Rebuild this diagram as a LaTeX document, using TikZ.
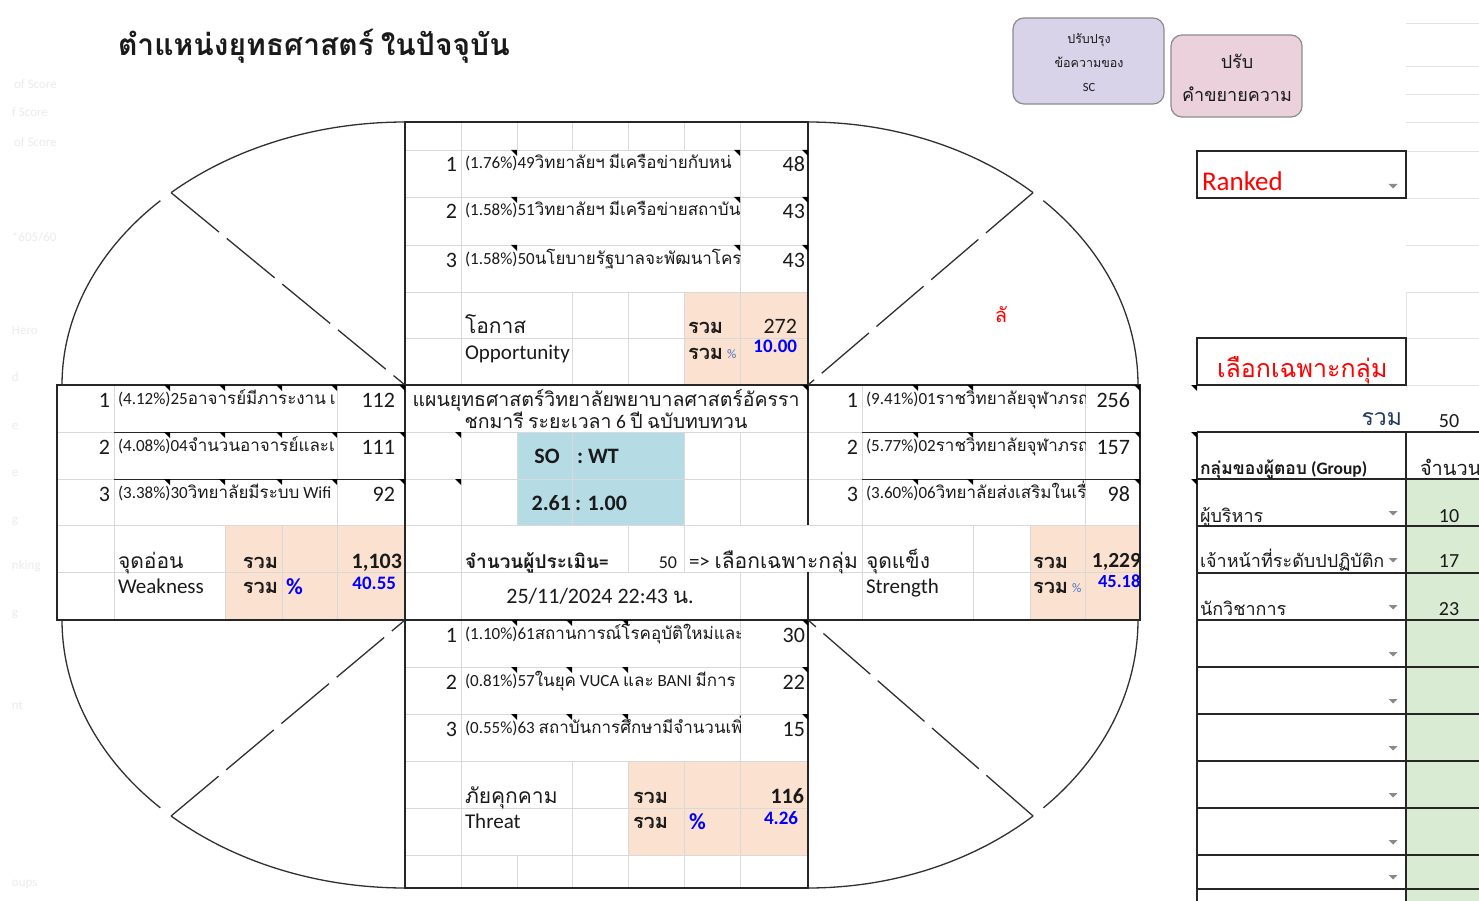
\documentclass[tikz,border=0pt]{standalone}
\usepackage{fontspec}
\setmainfont{Carlito}
\newfontfamily\tfont[Script=Thai]{Loma}
\XeTeXinterchartokenstate=1
\newXeTeXintercharclass\thaicls
\count255="0E00
\loop\XeTeXcharclass\count255=\thaicls\relax
\ifnum\count255<"0E7F \advance\count255 by 1 \repeat
\XeTeXinterchartoks 0 \thaicls={\begingroup\tfont}
\XeTeXinterchartoks 4095 \thaicls={\begingroup\tfont}
\XeTeXinterchartoks \thaicls 0={\endgroup}
\XeTeXinterchartoks \thaicls 4095={\endgroup}
\definecolor{peach}{HTML}{FBE2D0}
\definecolor{aqua}{HTML}{B5DCE5}
\definecolor{mint}{HTML}{D9EBD3}
\definecolor{gridc}{HTML}{D9D9D9}
\definecolor{bordc}{HTML}{262626}
\definecolor{arcc}{HTML}{303030}
\definecolor{txt}{HTML}{1A1A1A}
\definecolor{bluet}{HTML}{0000FF}
\definecolor{lblue}{HTML}{4472C4}
\definecolor{lav}{HTML}{D9D3E9}
\definecolor{pinkb}{HTML}{EAD1DC}
\definecolor{btnb}{HTML}{8C8C8C}
\definecolor{redt}{HTML}{FF0000}
\definecolor{navyt}{HTML}{1F3864}
\definecolor{faint}{HTML}{ECECEC}
\definecolor{ddc}{HTML}{8A8A8A}
\definecolor{lgrid}{HTML}{E3E3E3}
\newcommand\desccell[5]{%
  \begin{scope}\clip (#2,#3) rectangle (#4,#3+47);
  \node[T,fs=17] (#1) at (#2+4,#3+19) {#5};
  \end{scope}}
\newcommand\ctri[2]{\fill[black] (#1-6,#2) -- (#1,#2) -- (#1,#2+6) -- cycle;}
\newcommand\ddarrow[2]{\fill[ddc] (#1-4.5,#2-2) -- (#1+4.5,#2-2) -- (#1,#2+2.5) -- cycle;}
\begin{document}
\begin{tikzpicture}[x=1pt,y=-1pt,
  every node/.style={inner sep=0pt,outer sep=0pt,text=txt},
  T/.style={anchor=base west}, R/.style={anchor=base east}, C/.style={anchor=base},
  fs/.style={font=\fontsize{#1}{#1}\selectfont},
  fb/.style={font=\fontsize{#1}{#1}\selectfont\bfseries},
  grid/.style={draw=gridc,line width=0.8pt},
  bord/.style={draw=bordc,line width=1.4pt},
  thinb/.style={draw=bordc,line width=0.9pt},
  arcl/.style={draw=arcc,line width=1.3pt},
  dsh/.style={draw=arcc,line width=1.3pt,dash pattern=on 62pt off 10pt},
  lg/.style={draw=lgrid,line width=0.8pt},
]
\fill[white] (0,0) rectangle (1479,901);
\useasboundingbox (0,0) rectangle (1479,901);

% faint text at left edge
\node[T,fs=13,text=faint] (g1) at (14,89) {of Score};
\node[T,fs=13,text=faint] (g2) at (12,117) {f Score};
\node[T,fs=13,text=faint] (g3) at (14,147) {of Score};
\node[T,fs=13,text=faint] (g4) at (12,241) {*605/60};
\node[T,fs=13,text=faint] (g5) at (12,334) {Hero};
\node[T,fs=13,text=faint] (g6) at (12,381) {d};
\node[T,fs=13,text=faint] (g7) at (12,429) {e};
\node[T,fs=13,text=faint] (g8) at (12,476) {e};
\node[T,fs=13,text=faint] (g9) at (12,523) {g};
\node[T,fs=13,text=faint] (g10) at (12,569) {nking};
\node[T,fs=13,text=faint] (g11) at (12,616) {g};
\node[T,fs=13,text=faint] (g12) at (12,709) {nt};
\node[T,fs=13,text=faint] (g13) at (12,886) {oups};

% fills
\fill[peach] (684,292) rectangle (808,385);
\fill[peach] (225,525) rectangle (405,620);
\fill[peach] (1030,525) rectangle (1140,620);
\fill[peach] (628,761) rectangle (808,855);
\fill[aqua] (517,432) rectangle (684,525);
\fill[mint] (1406,479) rectangle (1479,901);

% grid: top table
\foreach \yy in {150,197,245,292,338} {\draw[grid] (405,\yy) -- (808,\yy);}
\draw[grid] (461,122) -- (461,385);
\draw[grid] (740,122) -- (740,385);
\foreach \xx in {517,572,628,684} {\draw[grid] (\xx,122) -- (\xx,150);}
\foreach \xx in {572,628,684} {\draw[grid] (\xx,292) -- (\xx,385);}
% grid: left table
\foreach \yy in {432,479,525,572} {\draw[grid] (57,\yy) -- (405,\yy);}
\draw[grid] (114,385) -- (114,620);
\draw[grid] (337,385) -- (337,620);
\draw[grid] (225,525) -- (225,620);
\draw[grid] (282,525) -- (282,620);
% grid: centre
\foreach \yy in {432,479,525,572} {\draw[grid] (405,\yy) -- (808,\yy);}
\draw[grid] (461,432) -- (461,620);
\draw[grid] (517,432) -- (517,525);
\draw[grid] (572,432) -- (572,525);
\draw[grid] (684,432) -- (684,572);
\draw[grid] (740,432) -- (740,525);
\draw[grid] (740,572) -- (740,620);
\draw[grid] (628,525) -- (628,572);
% grid: right table
\foreach \yy in {432,479,525,572} {\draw[grid] (808,\yy) -- (1140,\yy);}
\draw[grid] (862,385) -- (862,620);
\draw[grid] (1085,385) -- (1085,620);
\draw[grid] (973,525) -- (973,620);
\draw[grid] (1030,525) -- (1030,620);
% grid: bottom table
\foreach \yy in {667,714,761,808,855} {\draw[grid] (405,\yy) -- (808,\yy);}
\draw[grid] (461,620) -- (461,888);
\draw[grid] (740,620) -- (740,888);
\foreach \xx in {572,628,684} {\draw[grid] (\xx,761) -- (\xx,888);}
\draw[grid] (517,855) -- (517,888);

% thin black cell tops
\draw[thinb] (114,432) -- (405,432);
\draw[thinb] (114,479) -- (405,479);
\draw[thinb] (862,432) -- (1140,432);
\draw[thinb] (862,479) -- (1140,479);

% table borders
\draw[bord] (405,122) rectangle (808,385);
\draw[bord] (57,385) rectangle (405,620);
\draw[bord] (405,620) rectangle (808,888);
\draw[bord] (808,385) -- (1140,385) -- (1140,620) -- (808,620);
\draw[bord] (808,385) -- (808,525);
\draw[bord] (808,572) -- (808,620);

% arcs and dashed radii
\coordinate (ctl) at (405,385);
\coordinate (ctr) at (808,385);
\coordinate (cbl) at (405,620);
\coordinate (cbr) at (808,620);
\coordinate (ptl) at ({405+343*cos(133)},{385-263*sin(133)});
\coordinate (ptr) at ({808+330*cos(47)},{385-263*sin(47)});
\coordinate (pbl) at ({405+343*cos(133)},{620+268*sin(133)});
\coordinate (pbr) at ({808+330*cos(47)},{620+268*sin(47)});
\draw[arcl] plot[domain=90:133,samples=40,smooth] ({405+343*cos(\x)},{385-263*sin(\x)});
\draw[arcl] plot[domain=135.5:180,samples=40,smooth] ({405+343*cos(\x)},{385-263*sin(\x)});
\draw[arcl] plot[domain=47:90,samples=40,smooth] ({808+330*cos(\x)},{385-263*sin(\x)});
\draw[arcl] plot[domain=0:44.5,samples=40,smooth] ({808+330*cos(\x)},{385-263*sin(\x)});
\draw[arcl] plot[domain=90:133,samples=40,smooth] ({405+343*cos(\x)},{620+268*sin(\x)});
\draw[arcl] plot[domain=135.5:180,samples=40,smooth] ({405+343*cos(\x)},{620+268*sin(\x)});
\draw[arcl] plot[domain=47:90,samples=40,smooth] ({808+330*cos(\x)},{620+268*sin(\x)});
\draw[arcl] plot[domain=0:44.5,samples=40,smooth] ({808+330*cos(\x)},{620+268*sin(\x)});
\draw[dsh] (ptl) -- (ctl);
\draw[dsh] (ptr) -- (ctr);
\draw[dsh] (pbl) -- (cbl);
\draw[dsh] (pbr) -- (cbr);

% title
\node[T,fb=30] (title) at (118,56) {ตำแหน่งยุทธศาสตร์ ในปัจจุบัน};

% top table: opportunity
\node[R,fs=22] (o1n) at (457,172) {1};
\desccell{o1t}{461}{150}{740}{(1.76\%)49วิทยาลัยฯ มีเครือข่ายกับหน่}
\node[R,fs=22] (o1v) at (805,172) {48};
\node[R,fs=22] (o2n) at (457,219) {2};
\desccell{o2t}{461}{197}{740}{(1.58\%)51วิทยาลัยฯ มีเครือข่ายสถาบัน}
\node[R,fs=22] (o2v) at (805,219) {43};
\node[R,fs=22] (o3n) at (457,267) {3};
\desccell{o3t}{461}{245}{740}{(1.58\%)50นโยบายรัฐบาลจะพัฒนาโคร}
\node[R,fs=22] (o3v) at (805,267) {43};
\node[T,fs=21] (olab1) at (465,333) {โอกาส};
\node[T,fs=21] (olab2) at (465,359) {Opportunity};
\node[T,fb=20] (osum1) at (688,333) {รวม};
\node[R,fs=22] (osv) at (797,333) {272};
\node[T,fb=20] (osum2) at (688,359) {รวม};
\node[T,fs=13,text=lblue] (opc) at (727,358) {\%};
\node[R,fb=19,text=bluet] (opv) at (797,352) {10.00};

% left table: weakness
\node[R,fs=22] (w1n) at (110,407) {1};
\desccell{w1t}{114}{385}{337}{(4.12\%)25อาจารย์มีภาระงาน เ}
\node[R,fs=22] (w1v) at (395,407) {112};
\node[R,fs=22] (w2n) at (110,454) {2};
\desccell{w2t}{114}{432}{337}{(4.08\%)04จำนวนอาจารย์และเ}
\node[R,fs=22] (w2v) at (395,454) {111};
\node[R,fs=22] (w3n) at (110,501) {3};
\desccell{w3t}{114}{479}{337}{(3.38\%)30วิทยาลัยมีระบบ Wifi}
\node[R,fs=22] (w3v) at (395,501) {92};
\node[T,fs=21] (wlab1) at (118,568) {จุดอ่อน};
\node[T,fs=21] (wlab2) at (118,593) {Weakness};
\node[R,fb=20] (wsum1) at (278,568) {รวม};
\node[R,fb=20] (wsum2) at (278,593) {รวม};
\node[T,fb=23,text=bluet] (wpc) at (286,594) {\%};
\node[R,fb=22] (wsv) at (402,568) {1,103};
\node[R,fb=19,text=bluet] (wpv) at (396,589) {40.55};

% centre
\node[C,fs=19.5] (ct1) at (606,406) {แผนยุทธศาสตร์วิทยาลัยพยาบาลศาสตร์อัครรา};
\node[C,fs=19.5] (ct2) at (606,428) {ชกมารี ระยะเวลา 6 ปี ฉบับทบทวน};
\node[C,fb=22] (so) at (547,463) {SO};
\node[T,fb=22] (wt) at (577,463) {:\ WT};
\node[R,fb=22] (r1) at (571,510) {2.61};
\node[T,fb=22] (r2) at (575,510) {: 1.00};
\node[T,fb=19] (cnt) at (465,568) {จำนวนผู้ประเมิน=};
\node[R,fs=18] (cntv) at (677,568) {50};
\node[T,fs=21] (sel) at (689,568) {=> เลือกเฉพาะกลุ่ม};
\node[C,fs=22] (dt) at (600,603) {25/11/2024 22:43 น.};

% right table: strength
\node[R,fs=22] (s1n) at (858,407) {1};
\desccell{s1t}{862}{385}{1085}{(9.41\%)01ราชวิทยาลัยจุฬาภรณ์}
\node[R,fs=22] (s1v) at (1130,407) {256};
\node[R,fs=22] (s2n) at (858,454) {2};
\desccell{s2t}{862}{432}{1085}{(5.77\%)02ราชวิทยาลัยจุฬาภรณ์}
\node[R,fs=22] (s2v) at (1130,454) {157};
\node[R,fs=22] (s3n) at (858,501) {3};
\desccell{s3t}{862}{479}{1085}{(3.60\%)06วิทยาลัยส่งเสริมในเรื่อง}
\node[R,fs=22] (s3v) at (1130,501) {98};
\node[T,fs=21] (slab1) at (866,568) {จุดแข็ง};
\node[T,fs=21] (slab2) at (866,593) {Strength};
\node[T,fb=20] (ssum1) at (1033,568) {รวม};
\node[T,fb=20] (ssum2) at (1033,593) {รวม};
\node[T,fs=13,text=lblue] (spc) at (1072,592) {\%};
\node[R,fb=21.5] (ssv) at (1141,567) {1,229};
\begin{scope}\clip (1086,574) rectangle (1140,620);
\node[T,fb=18.5,text=bluet] (spv) at (1098,587) {45.18};
\end{scope}

% bottom table: threat
\node[R,fs=22] (t1n) at (457,642) {1};
\desccell{t1t}{461}{620}{740}{(1.10\%)61สถานการณ์โรคอุบัติใหม่และ}
\node[R,fs=22] (t1v) at (805,642) {30};
\node[R,fs=22] (t2n) at (457,689) {2};
\desccell{t2t}{461}{667}{740}{(0.81\%)57ในยุค VUCA และ BANI มีการ}
\node[R,fs=22] (t2v) at (805,689) {22};
\node[R,fs=22] (t3n) at (457,736) {3};
\desccell{t3t}{461}{714}{740}{(0.55\%)63 สถาบันการศึกษามีจำนวนเพิ่ม}
\node[R,fs=22] (t3v) at (805,736) {15};
\node[T,fs=21] (tlab1) at (465,803) {ภัยคุกคาม};
\node[T,fs=21] (tlab2) at (465,828) {Threat};
\node[T,fb=20] (tsum1) at (633,803) {รวม};
\node[T,fb=20] (tsum2) at (633,828) {รวม};
\node[T,fb=23,text=bluet] (tpc) at (689,829) {\%};
\node[R,fb=22] (tsv) at (804,803) {116};
\node[R,fb=19,text=bluet] (tpv) at (798,824) {4.26};

% red mark
\node[C,fs=20,text=redt] (la) at (1001,322) {ลั};

% buttons
\node[draw=btnb,fill=lav,rounded corners=11pt,line width=1.2pt,minimum width=151pt,minimum height=86pt] (btn1) at (1088.5,61) {};
\node[C,fs=12.5] (b1a) at (1089,44) {ปรับปรุง};
\node[C,fs=12.5] (b1b) at (1089,68) {ข้อความของ};
\node[C,fs=12.5] (b1c) at (1089,92) {SC};
\node[draw=btnb,fill=pinkb,rounded corners=11pt,line width=1.2pt,minimum width=131pt,minimum height=82pt] (btn2) at (1236.5,76) {};
\node[C,fs=18] (b2a) at (1237,69) {ปรับ};
\node[C,fs=18] (b2b) at (1237,102) {คำขยายความ};

% right panel grid lines
\foreach \yy in {23,66,94,122,151,198,245,292,338,385} {\draw[lg] (1406,\yy) -- (1479,\yy);}
\draw[lg] (1406,292) -- (1406,338);
\draw[bord,line width=1.3pt] (1197,151) rectangle (1406,198);
\node[T,fs=27,text=redt] (rk) at (1202,191) {Ranked};
\ddarrow{1393}{186}
\draw[bord,line width=1.3pt] (1197,338) rectangle (1406,385);
\node[T,fs=25,text=redt] (selg) at (1217,377) {เลือกเฉพาะกลุ่ม};
\node[R,fs=23,text=navyt] (sumg) at (1402,425) {รวม};
\node[C,fs=20] (sumv) at (1449,427) {50};
% group table
\foreach \yy in {432,479,526,573,620,667,714,761,808,855,889} {\draw[bord,line width=1.2pt] (1197,\yy) -- (1479,\yy);}
\draw[bord,line width=1.2pt] (1197,432) -- (1197,901);
\draw[bord,line width=1.2pt] (1406,432) -- (1406,901);
\node[T,fb=17.5] (grp) at (1200,474) {กลุ่มของผู้ตอบ (Group)};
\node[T,fs=20] (cnth) at (1420,475) {จำนวน};
\node[T,fs=18] (gr1) at (1200,522) {ผู้บริหาร};
\node[C,fs=20] (gv1) at (1449,522) {10};
\begin{scope}\clip (1197,526) rectangle (1383,573);
\node[T,fs=18] (gr2) at (1200,567) {เจ้าหน้าที่ระดับปปฏิบัติการ};
\end{scope}
\node[C,fs=20] (gv2) at (1449,567) {17};
\node[T,fs=18] (gr3) at (1200,615) {นักวิชาการ};
\node[C,fs=20] (gv3) at (1449,615) {23};
\foreach \yy in {513,560,607,654,701,748,795,842,877} {\ddarrow{1393}{\yy}}

% comment markers
\foreach \yy in {150,197,245} {\ctri{517}{\yy}\ctri{740}{\yy}\ctri{808}{\yy}}
\foreach \yy in {385,432,479} {\ctri{170}{\yy}\ctri{225}{\yy}\ctri{282}{\yy}\ctri{337}{\yy}\ctri{405}{\yy}}
\foreach \yy in {385,432,479} {\ctri{918}{\yy}\ctri{973}{\yy}\ctri{1140}{\yy}}
\foreach \yy in {620,667,714} {\ctri{517}{\yy}\ctri{572}{\yy}\ctri{628}{\yy}\ctri{808}{\yy}}
\ctri{461}{432}\ctri{461}{479}\ctri{808}{385}
\ctri{1197}{385}\ctri{1197}{432}\ctri{1197}{479}
\end{tikzpicture}
\end{document}
